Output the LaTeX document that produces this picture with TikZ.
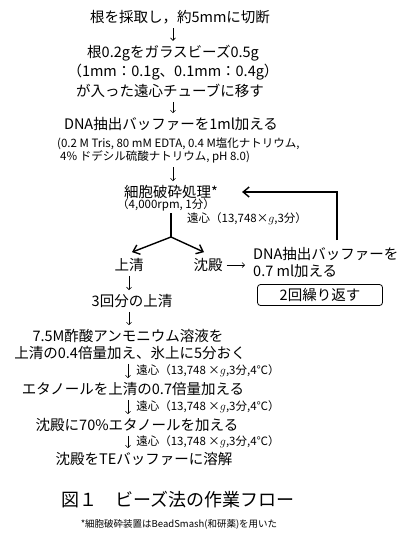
\documentclass[tikz,border=0pt]{standalone}
\usepackage{fontspec}
\setmainfont{Noto Sans CJK JP}
\usetikzlibrary{arrows.meta}

\tikzset{
  txt/.style={inner sep=0pt, font=\fontsize{14.5}{17}\selectfont},
  sml/.style={inner sep=0pt, font=\fontsize{11.5}{13}\selectfont},
  dn/.style={-{Straight Barb[length=2.5pt,width=5pt]}, line width=0.6pt, shorten <=4pt, shorten >=4pt},
  thk/.style={line width=1.4pt},
  tip/.style={-{Straight Barb[length=6pt,width=10pt]}}
}

\begin{document}
\begin{tikzpicture}[x=1pt,y=-1pt]
\path[fill=white] (0,0) rectangle (400,538);
% steps
\node[txt] (s1) at (180,17) {根を採取し，約5mmに切断};
\node[txt] (s2a) at (173,53) {根0.2gをガラスビーズ0.5g};
\node[txt] (s2b) at (173,72) {（1mm：0.1g、0.1mm：0.4g）};
\node[txt] (s2c) at (170,91) {が入った遠心チューブに移す};
\node[txt] (s3) at (171,124) {DNA抽出バッファーを1ml加える};
\node[sml,anchor=west] (n3a) at (57,144) {(0.2 M Tris, 80 mM EDTA, 0.4 M塩化ナトリウム,};
\node[sml,anchor=west] (n3b) at (60,157) {4\% ドデシル硫酸ナトリウム, pH 8.0)};
\node[txt] (s4) at (171,192) {細胞破砕処理*};
\node[sml] (s4n) at (166,205) {（4,000rpm, 1分）};
\node[sml,anchor=west] (c1) at (187,219) {遠心（13,748×$g$,3分）};
\node[txt] (s5) at (129,265) {上清};
\node[txt] (s6) at (208,265) {沈殿};
\node[txt,anchor=west,align=left] (s7) at (253,262) {DNA抽出バッファーを\\0.7 ml加える};
\node[txt,draw,rounded corners=3pt,line width=0.8pt,minimum width=125pt,minimum height=21pt] (rep) at (320,295) {2回繰り返す};
\node[txt] (s8) at (132,301) {3回分の上清};
\node[txt] (s9a) at (128,336) {7.5M酢酸アンモニウム溶液を};
\node[txt] (s9b) at (130,353) {上清の0.4倍量加え、氷上に5分おく};
\node[txt] (s10) at (133,389) {エタノールを上清の0.7倍量加える};
\node[txt] (s11) at (137,425) {沈殿に70\%エタノールを加える};
\node[txt] (s12) at (144,459) {沈殿をTEバッファーに溶解};
\node[inner sep=0pt,font=\fontsize{18}{20}\selectfont] (cap) at (178,500) {図１　ビーズ法の作業フロー};
\node[inner sep=0pt,font=\fontsize{9.5}{11}\selectfont] (foot) at (179,524) {*細胞破砕装置はBeadSmash(和研薬)を用いた};
% arrows
\draw[dn] (s1.south -| s2a) -- (s2a);
\draw[dn] (s2c.south -| s2a) -- (s3.north -| s2a);
\draw[dn] (n3b.south -| s2a) -- (s4.north -| s2a);
\coordinate (br) at (171,237);
\draw[thk,shorten <=2pt] (s4n.south -| br) -- (br);
\draw[thk,tip] (br) -- ([xshift=3pt,yshift=6pt]s5.north);
\draw[thk,tip] (br) -- ([xshift=-4pt,yshift=6pt]s6.north);
\draw[dn,shorten >=8pt] (s6) -- (s6 -| s7.west);
\coordinate (lp) at (337,240);
\draw[thk,tip] (lp) |- ([xshift=24pt]s4.east);
\draw[dn] (s5) -- (s5 |- s8.north);
\draw[dn] (s8.south -| s5) -- (s9a.north -| s5);
\draw[dn] (s9b.south -| s9a) -- (s10.north -| s9a) node[midway,right=8pt,sml] {遠心（13,748 ×$g$,3分,4℃）};
\draw[dn] (s10.south -| s9a) -- (s11.north -| s9a) node[midway,right=8pt,sml] {遠心（13,748 ×$g$,3分,4℃）};
\draw[dn] (s11.south -| s9a) -- (s12.north -| s9a) node[midway,right=8pt,sml] {遠心（13,748 ×$g$,3分,4℃）};
\end{tikzpicture}
\end{document}
